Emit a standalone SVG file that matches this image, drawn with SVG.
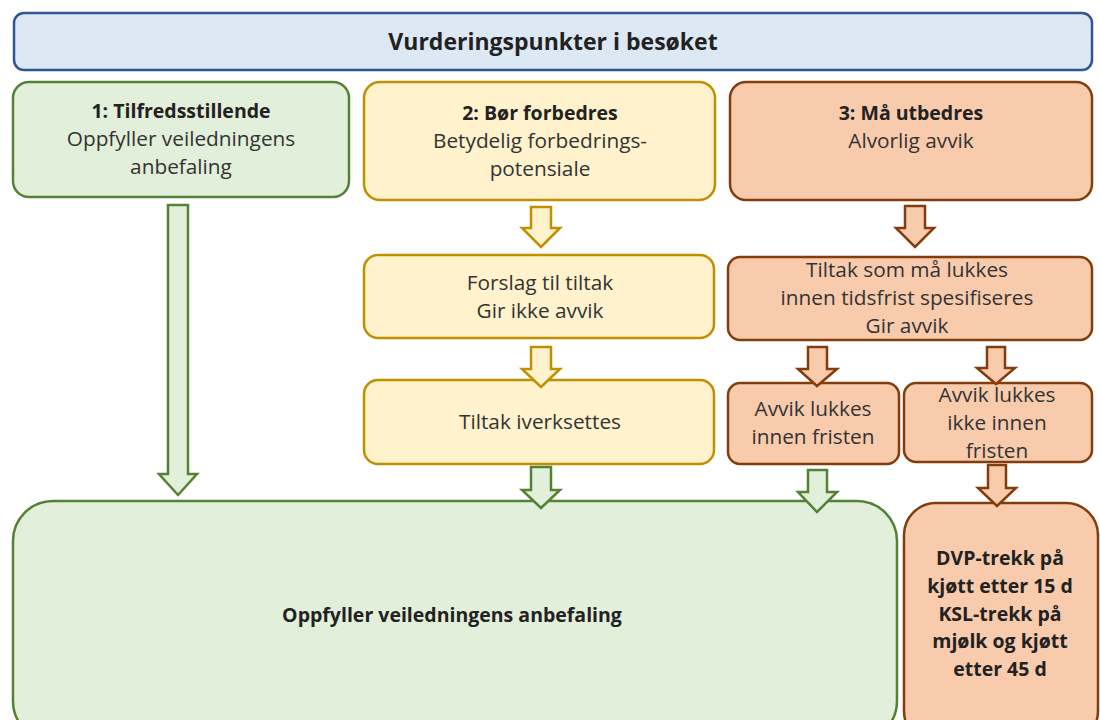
<svg xmlns="http://www.w3.org/2000/svg" width="1100" height="720" viewBox="0 0 1100 720">
<style>
text{font-family:"Open Sans","Liberation Sans",sans-serif;font-size:20.8px;fill:#333;text-anchor:middle}
.b{font-weight:bold;fill:#222;font-size:19.5px}
.t{font-size:23px}
.g{fill:#e2efda;stroke:#548235;stroke-width:2.5}
.y{fill:#fff2cc;stroke:#bf9000;stroke-width:2.5}
.o{fill:#f8cbad;stroke:#843c0c;stroke-width:2.5}
.bl{fill:#dde8f5;stroke:#2f5597;stroke-width:2.5}
</style>
<rect width="1100" height="720" fill="#fff"/>
<g id="title"><rect class="bl" x="14" y="13" width="1078" height="57" rx="10"/><text class="b t" x="553" y="50">Vurderingspunkter i besøket</text></g>
<g id="n1"><rect class="g" x="13" y="82" width="336" height="115" rx="16"/><text class="b" x="181" y="118">1: Tilfredsstillende</text><text x="181" y="146">Oppfyller veiledningens</text><text x="181" y="174">anbefaling</text></g>
<g id="n2"><rect class="y" x="364" y="82" width="351" height="118" rx="16"/><text class="b" x="540" y="120">2: Bør forbedres</text><text x="540" y="148">Betydelig forbedrings-</text><text x="540" y="176">potensiale</text></g>
<g id="n3"><rect class="o" x="730" y="82" width="362" height="118" rx="16"/><text class="b" x="911" y="120">3: Må utbedres</text><text x="911" y="148">Alvorlig avvik</text></g>
<g id="n4"><rect class="y" x="364" y="255" width="350" height="83" rx="14"/><text x="540" y="290">Forslag til tiltak</text><text x="540" y="318">Gir ikke avvik</text></g>
<g id="n5"><rect class="o" x="728" y="257" width="364" height="83" rx="12"/><text x="907" y="277">Tiltak som må lukkes</text><text x="907" y="305">innen tidsfrist spesifiseres</text><text x="907" y="333">Gir avvik</text></g>
<g id="n6"><rect class="y" x="364" y="380" width="350" height="84" rx="14"/><text x="540" y="429">Tiltak iverksettes</text></g>
<g id="n7"><rect class="o" x="728" y="383" width="171" height="81" rx="12"/><text x="813" y="416">Avvik lukkes</text><text x="813" y="444">innen fristen</text></g>
<g id="n8"><rect class="o" x="904" y="383" width="188" height="79" rx="12"/><text x="997" y="402">Avvik lukkes</text><text x="997" y="430">ikke innen</text><text x="997" y="458">fristen</text></g>
<g id="n9"><rect class="g" x="13" y="501" width="884" height="240" rx="40"/><text class="b" x="452" y="622">Oppfyller veiledningens anbefaling</text></g>
<g id="n10"><rect class="o" x="904" y="503" width="194" height="240" rx="32"/><text class="b" x="1000" y="565">DVP-trekk på</text><text class="b" x="1000" y="593">kjøtt etter 15 d</text><text class="b" x="1000" y="621">KSL-trekk på</text><text class="b" x="1000" y="648">mjølk og kjøtt</text><text class="b" x="1000" y="676">etter 45 d</text></g>
<g id="connectors">
<path class="g" d="M168,205 H188 V474 H197 L178,495 L159,474 H168 Z"/>
<path class="y" d="M531,207 H551 V228 H560 L541,247 L522,228 H531 Z"/>
<path class="y" d="M531,347 H551 V369 H560 L541,387 L522,369 H531 Z"/>
<path class="g" d="M531,467 H551 V490 H560 L541,508 L522,490 H531 Z"/>
<path class="o" d="M905,206 H925 V228 H934 L915,247 L896,228 H905 Z"/>
<path class="o" d="M808,347 H827 V369 H837 L817,386 L798,369 H808 Z"/>
<path class="o" d="M987,347 H1005 V368 H1015 L996,384 L977,368 H987 Z"/>
<path class="g" d="M808,470 H827 V492 H837 L817,512 L798,492 H808 Z"/>
<path class="o" d="M988,465 H1006 V488 H1016 L997,506 L978,488 H988 Z"/>
</g>
</svg>
